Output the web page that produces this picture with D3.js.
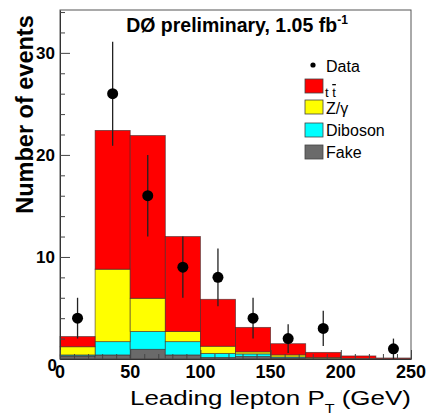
<!DOCTYPE html>
<html>
<head>
<meta charset="utf-8">
<script src="https://cdn.jsdelivr.net/npm/d3@7"></script>
<style>
  html, body { margin: 0; padding: 0; background: #fff; }
  svg { display: block; font-family: "Liberation Sans", Arial, Helvetica, sans-serif; }
</style>
</head>
<body>
<svg id="chart" width="429" height="416"></svg>
<script>
// Leading lepton pT distribution, 25 GeV bins from 0 to 250
const binEdges = [0, 25, 50, 75, 100, 125, 150, 175, 200, 225, 250];

// Background / signal contributions per bin (events), stacked bottom to top
const fake    = [0.3, 0.4, 0.95, 0.4, 0.15, 0.25, 0.1, 0.0, 0.0, 0.0];
const diboson = [0.1, 1.3, 1.75, 1.3, 0.4, 0.25, 0.1, 0.05, 0.0, 0.0];
const zgamma  = [0.8, 7.1, 3.25, 1.0, 0.7, 0.2, 0.2, 0.1, 0.05, 0.0];
const ttbar   = [1.0, 13.6, 15.95, 9.3, 4.6, 2.4, 1.1, 0.5, 0.25, 0.1];

// Observed events and their uncertainties
const dataCounts = [4, 26, 16, 9, 8, 4, 2, 3, 0, 1];
const dataErrors = [2, 5.1, 4, 3, 2.83, 2, 1.41, 1.73, 0, 1];

const xTicks = [0, 50, 100, 150, 200, 250];
const yTicks = [0, 10, 20, 30];

const layers = [
  { name: "Fake",    values: fake,    color: "#6a6a6a" },
  { name: "Diboson", values: diboson, color: "#00ffff" },
  { name: "Z/γ",     values: zgamma,  color: "#ffff00" },
  { name: "tt",      values: ttbar,   color: "#ff0000" }
];

const svg = d3.select("#chart");
const frame = { left: 60, right: 411, top: 10, bottom: 359 };

const x = d3.scaleLinear().domain([0, 250]).range([frame.left, frame.right]);
const y = d3.scaleLinear().domain([0, 34.2]).range([frame.bottom, frame.top]);

// Stack the contributions
const nBins = binEdges.length - 1;
const table = d3.range(nBins).map(i => {
  const row = { i };
  layers.forEach(l => { row[l.name] = l.values[i]; });
  return row;
});
const stacked = d3.stack().keys(layers.map(l => l.name))(table);

const g = svg.append("g");
stacked.forEach((s, k) => {
  g.selectAll(null).data(s).enter().append("rect")
    .attr("x", d => x(binEdges[d.data.i]))
    .attr("width", d => x(binEdges[d.data.i + 1]) - x(binEdges[d.data.i]))
    .attr("y", d => y(d[1]))
    .attr("height", d => Math.max(0, y(d[0]) - y(d[1])))
    .attr("fill", layers[k].color)
    .attr("stroke", "#3a2a2a")
    .attr("stroke-opacity", 0.7)
    .attr("stroke-width", 0.8);
});

// Frame
svg.append("rect")
  .attr("x", frame.left).attr("y", frame.top)
  .attr("width", frame.right - frame.left).attr("height", frame.bottom - frame.top)
  .attr("fill", "none").attr("stroke", "#555").attr("stroke-width", 1);

// Y axis ticks (drawn inward)
const yAxis = d3.axisLeft(y).tickValues(d3.range(0, 35, 2)).tickSizeInner(-5).tickSizeOuter(0).tickFormat("");
const yAxisG = svg.append("g").attr("transform", `translate(${frame.left},0)`).call(yAxis);
yAxisG.select(".domain").attr("stroke", "#333");
yAxisG.selectAll(".tick line").attr("stroke", "#444")
  .attr("x2", d => yTicks.includes(d) ? 10 : 5);
svg.append("g").selectAll("text").data(yTicks).enter().append("text")
  .attr("x", d => d === 0 ? 57 : 55)
  .attr("y", d => d === 0 ? 371 : y(d) + 6)
  .attr("text-anchor", "end")
  .attr("font-size", 17).attr("font-weight", "bold").text(d => d);

// X axis ticks (drawn inward)
const xAxis = d3.axisBottom(x).tickValues(d3.range(0, 251, 10)).tickSizeInner(-5).tickSizeOuter(0).tickFormat("");
const xAxisG = svg.append("g").attr("transform", `translate(0,${frame.bottom})`).call(xAxis);
xAxisG.select(".domain").attr("stroke", "#333");
xAxisG.selectAll(".tick line").attr("stroke", "#444")
  .attr("y2", d => xTicks.includes(d) ? -9 : -5);
svg.append("g").selectAll("text").data(xTicks).enter().append("text")
  .attr("x", d => x(d)).attr("y", 378)
  .attr("text-anchor", "middle")
  .attr("font-size", 18).attr("font-weight", "bold").text(d => d);

// Data points with error bars
const pts = d3.range(nBins).filter(i => dataCounts[i] > 0).map(i => ({
  xc: (binEdges[i] + binEdges[i + 1]) / 2, v: dataCounts[i], e: dataErrors[i]
}));
const pg = svg.append("g");
pg.selectAll("line").data(pts).enter().append("line")
  .attr("x1", d => x(d.xc)).attr("x2", d => x(d.xc))
  .attr("y1", d => y(Math.min(34.2, d.v + d.e))).attr("y2", d => y(Math.max(0, d.v - d.e)))
  .attr("stroke", "#222").attr("stroke-width", 1.3);
pg.selectAll("circle").data(pts).enter().append("circle")
  .attr("cx", d => x(d.xc)).attr("cy", d => y(d.v)).attr("r", 5.5).attr("fill", "#000");

// Title
const title = svg.append("text").attr("x", 237).attr("y", 32)
  .attr("text-anchor", "middle").attr("font-size", 19.5).attr("font-weight", "bold");
title.append("tspan").text("DØ preliminary, 1.05 fb");
title.append("tspan").attr("font-size", 12).attr("dy", -8).text("-1");

// Axis titles
svg.append("text")
  .attr("transform", "translate(33,114.5) rotate(-90)")
  .attr("text-anchor", "middle").attr("font-size", 23.5).attr("font-weight", "bold")
  .text("Number of events");

// X title, stretched horizontally to span from 130 to 411
const xlG = svg.append("g").attr("transform", "translate(130,405)");
const xl = xlG.append("text").attr("x", 0).attr("y", 0).attr("font-size", 21);
xl.append("tspan").text("Leading lepton P");
xl.append("tspan").attr("font-size", 13).attr("dy", 8).text("T");
xl.append("tspan").attr("dy", -8).text(" (GeV)");
const xlWidth = xl.node().getComputedTextLength();
xlG.attr("transform", `translate(130,405) scale(${281 / xlWidth},1)`);

// Legend
const lg = svg.append("g").attr("font-size", 16);
lg.append("circle").attr("cx", 313).attr("cy", 65).attr("r", 2.6).attr("fill", "#000");
lg.append("text").attr("x", 326).attr("y", 72).text("Data");
const legendRows = [
  { color: "#ff0000", y: 79 },
  { color: "#ffff00", y: 100 },
  { color: "#00ffff", y: 123 },
  { color: "#6a6a6a", y: 145 }
];
lg.selectAll("rect").data(legendRows).enter().append("rect")
  .attr("x", 305).attr("y", d => d.y).attr("width", 18).attr("height", 14)
  .attr("fill", d => d.color).attr("stroke", "#444").attr("stroke-width", 0.8);
const tt = lg.append("text").attr("x", 325).attr("y", 97).attr("font-size", 13);
tt.append("tspan").text("t ");
tt.append("tspan").attr("text-decoration", "overline").text("t");
lg.append("text").attr("x", 326).attr("y", 114).text("Z/γ");
lg.append("text").attr("x", 326).attr("y", 136).text("Diboson");
lg.append("text").attr("x", 326).attr("y", 158).text("Fake");
</script>
</body>
</html>
